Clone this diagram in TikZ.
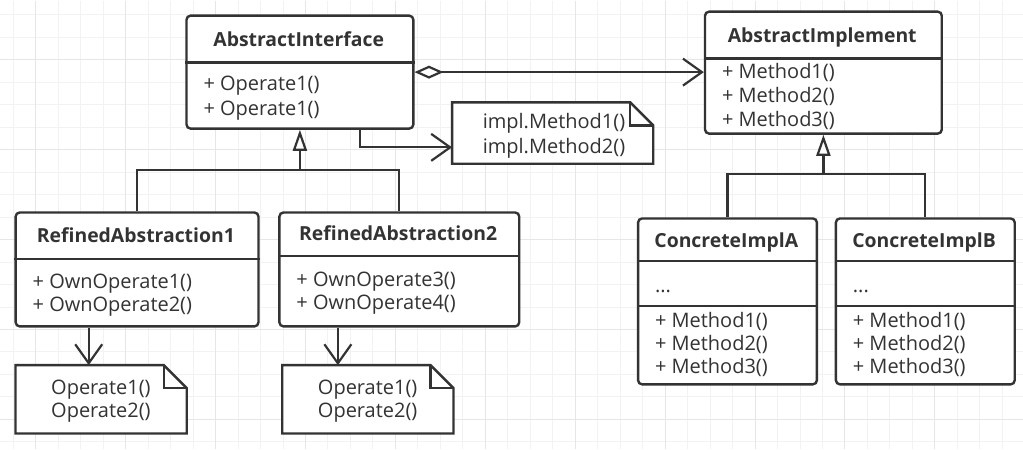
\documentclass[tikz,border=0pt]{standalone}
\usepackage{fontspec}
\setmainfont{Open Sans}
\usetikzlibrary{arrows.meta,calc}
\definecolor{ink}{HTML}{333333}
\definecolor{gridminor}{HTML}{F2F2F2}
\definecolor{gridmajor}{HTML}{E6E6E6}
\begin{document}
\begin{tikzpicture}[x=1pt,y=-1pt,
  umlbox/.style={draw=ink, line width=2.4pt, rounded corners=4pt, inner sep=0pt, anchor=north west, fill=white},
  notebox/.style={inner sep=0pt, anchor=north west},
  noteline/.style={draw=ink, line width=2.4pt, fill=white, line join=miter},
  divider/.style={draw=ink, line width=2.4pt},
  title/.style={font=\fontsize{19.4}{22}\selectfont\bfseries, text=ink, inner sep=0pt, anchor=base},
  row/.style={font=\fontsize{20}{23}\selectfont, text=ink, inner sep=0pt, anchor=base west},
  notetext/.style={font=\fontsize{20}{23}\selectfont, text=ink, inner sep=0pt, anchor=base},
  conn/.style={draw=ink, line width=2.2pt},
  barb/.style={-{Straight Barb[length=19pt,width=27pt]}},
  inherit/.style={-{Triangle[length=21pt,width=14pt,fill=white]}},
  aggr/.style={{Diamond[length=29pt,width=13pt,fill=white]}-{Straight Barb[length=19pt,width=27pt]}}
]
% background and grid
\fill[white] (0,0) rectangle (1023,449);
\foreach \k in {0,...,44} \draw[gridminor, line width=1pt] (12.8+22.5*\k,0) -- (12.8+22.5*\k,449);
\foreach \k in {0,...,19} \draw[gridminor, line width=1pt] (0,14.3+22.5*\k) -- (1023,14.3+22.5*\k);
\foreach \k in {0,...,10} \draw[gridmajor, line width=1pt] (35.3+90*\k,0) -- (35.3+90*\k,449);
\foreach \k in {0,...,4} \draw[gridmajor, line width=1pt] (0,59.3+90*\k) -- (1023,59.3+90*\k);
\useasboundingbox (0,0) rectangle (1023,449);

% class boxes
\node[umlbox, minimum width=227pt, minimum height=113pt] (ai) at (185,14) {};
\node[umlbox, minimum width=237pt, minimum height=122pt] (aimp) at (704,10) {};
\node[umlbox, minimum width=243pt, minimum height=114pt] (ra1) at (14,211) {};
\node[umlbox, minimum width=240pt, minimum height=114pt] (ra2) at (278,211) {};
\node[umlbox, minimum width=179pt, minimum height=166pt] (ca) at (637,217) {};
\node[umlbox, minimum width=179pt, minimum height=166pt] (cb) at (835,217) {};

% dividers
\draw[divider] ([yshift=-48pt]ai.north west) -- ([yshift=-48pt]ai.north east);
\draw[divider] ([yshift=-48pt]aimp.north west) -- ([yshift=-48pt]aimp.north east);
\draw[divider] ([yshift=-47.5pt]ra1.north west) -- ([yshift=-47.5pt]ra1.north east);
\draw[divider] ([yshift=-45pt]ra2.north west) -- ([yshift=-45pt]ra2.north east);
\draw[divider] ([yshift=-44pt]ca.north west) -- ([yshift=-44pt]ca.north east);
\draw[divider] ([yshift=-89pt]ca.north west) -- ([yshift=-89pt]ca.north east);
\draw[divider] ([yshift=-44pt]cb.north west) -- ([yshift=-44pt]cb.north east);
\draw[divider] ([yshift=-89pt]cb.north west) -- ([yshift=-89pt]cb.north east);

% titles
\node[title] (ai-t) at (298.5,45.7) {AbstractInterface};
\node[title] (aimp-t) at (822.5,41.7) {AbstractImplement};
\node[title] (ra1-t) at (135.5,242.3) {RefinedAbstraction1};
\node[title] (ra2-t) at (398,240.7) {RefinedAbstraction2};
\node[title] (ca-t) at (726.5,247.3) {ConcreteImplA};
\node[title] (cb-t) at (924.5,247.3) {ConcreteImplB};

% members
\node[row] (ai-r1) at (203,90) {+ Operate1()};
\node[row] (ai-r2) at (203,115) {+ Operate1()};
\node[row] (aimp-r1) at (722,78) {+ Method1()};
\node[row] (aimp-r2) at (722,102) {+ Method2()};
\node[row] (aimp-r3) at (722,126) {+ Method3()};
\node[row] (ra1-r1) at (32,288) {+ OwnOperate1()};
\node[row] (ra1-r2) at (32,311.5) {+ OwnOperate2()};
\node[row] (ra2-r1) at (296,286) {+ OwnOperate3()};
\node[row] (ra2-r2) at (296,309.5) {+ OwnOperate4()};
\node[row] (ca-a) at (655,292) {...};
\node[row] (ca-r1) at (655,327) {+ Method1()};
\node[row] (ca-r2) at (655,350) {+ Method2()};
\node[row] (ca-r3) at (655,373.5) {+ Method3()};
\node[row] (cb-a) at (853,292) {...};
\node[row] (cb-r1) at (853,327) {+ Method1()};
\node[row] (cb-r2) at (853,350) {+ Method2()};
\node[row] (cb-r3) at (853,373.5) {+ Method3()};

% notes
\node[notebox, minimum width=201pt, minimum height=61pt] (n1) at (452,102) {};
\node[notebox, minimum width=171pt, minimum height=68pt] (n2) at (15,365) {};
\node[notebox, minimum width=171pt, minimum height=68pt] (n3) at (282,365) {};
\foreach \n in {n1,n2,n3} {
  \draw[noteline] (\n.north west) -- ([xshift=-23pt]\n.north east) -- ([yshift=-23pt]\n.north east) -- (\n.south east) -- (\n.south west) -- cycle;
  \draw[noteline, fill=none] ([xshift=-23pt]\n.north east) |- ([yshift=-23pt]\n.north east);
}
\node[notetext] (n1-a) at (554,128.3) {impl.Method1()};
\node[notetext] (n1-b) at (554,153.3) {impl.Method2()};
\node[notetext] (n2-a) at (100.5,394) {Operate1()};
\node[notetext] (n2-b) at (100.5,417.3) {Operate2()};
\node[notetext] (n3-a) at (367.5,394) {Operate1()};
\node[notetext] (n3-b) at (367.5,417.3) {Operate2()};

% connectors
\draw[conn, aggr] (ai.east) -- (ai.east -| aimp.west);
\coordinate (k1) at (360,147);
\draw[conn, barb] (ai.south -| k1) -- (k1) -- (k1 -| n1.west);
\coordinate (j1) at (0,170);
\draw[conn, line join=miter] (ra1.north) -- (ra1.north |- j1) -- (ra2.north |- j1) -- (ra2.north);
\draw[conn, inherit] (ai.south |- j1) -- (ai.south);
\coordinate (j2) at (0,174);
\draw[conn, line join=miter] (ca.north) -- (ca.north |- j2) -- (cb.north |- j2) -- (cb.north);
\draw[conn, inherit] (aimp.south |- j2) -- (aimp.south);
\coordinate (k2) at (88.3,0);
\draw[conn, barb] (ra1.south -| k2) -- (n2.north -| k2);
\coordinate (k3) at (337.7,0);
\draw[conn, barb] (ra2.south -| k3) -- (n3.north -| k3);
\end{tikzpicture}
\end{document}
